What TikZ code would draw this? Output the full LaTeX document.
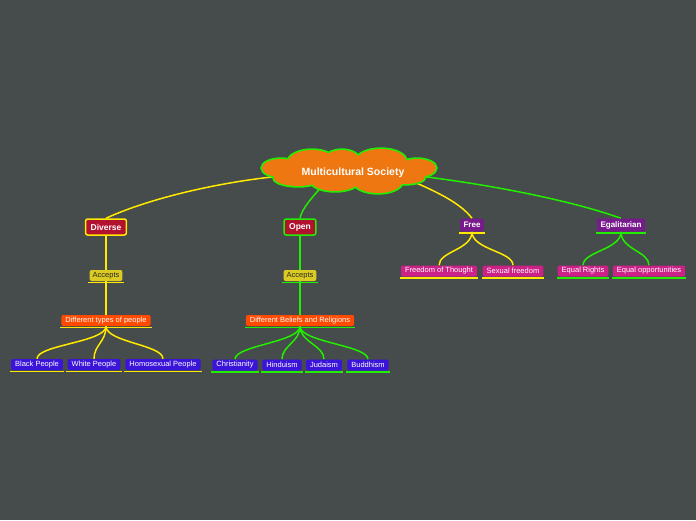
\documentclass[tikz,border=0pt]{standalone}
\usepackage{fontspec}
\setmainfont{Liberation Sans}
\usetikzlibrary{backgrounds}
\definecolor{SlateBG}    {HTML}{464B4B}
\definecolor{CloudOrange}{HTML}{EE7711}
\definecolor{LimeLine}   {HTML}{22EE00}
\definecolor{SunLine}    {HTML}{FFEA00}
\definecolor{WineRed}    {HTML}{B3122E}
\definecolor{AcceptGold} {HTML}{DCCB22}
\definecolor{FlameOrange}{HTML}{FF4A00}
\definecolor{IndigoLeaf} {HTML}{3A14D8}
\definecolor{PlumTop}    {HTML}{771A8C}
\definecolor{BerryLeaf}  {HTML}{CC2288}

\begin{document}
\begin{tikzpicture}[x=1pt,y=-1pt,
    plate/.style={rounded corners=2pt,inner xsep=4pt,inner ysep=0pt,
      minimum height=11pt,text=white,font=\fontsize{7.5}{8}\selectfont},
    headbox/.style={plate,line width=1.5pt,fill=WineRed,minimum height=16pt,
      inner xsep=5pt,font=\fontsize{8.5}{9}\selectfont\bfseries},
    plumbox/.style={plate,fill=PlumTop,minimum height=13pt,inner xsep=3.5pt,
      font=\fontsize{8}{9}\selectfont\bfseries},
    acceptbox/.style={plate,fill=AcceptGold,text=black!85,inner xsep=3pt},
    groupbox/.style={plate,fill=FlameOrange},
    leafbox/.style={plate,fill=IndigoLeaf},
    berrybox/.style={plate,fill=BerryLeaf},
    cloudrim/.style={draw=LimeLine,line width=3.4pt},
    cloudbody/.style={fill=CloudOrange},
    sunlink/.style={draw=SunLine,line width=1.5pt},
    limelink/.style={draw=LimeLine,line width=1.5pt}]

    \useasboundingbox (0,0) rectangle (696,520);

    % cloud: green rim first, orange body on top
    \foreach \coat in {cloudrim,cloudbody}
      \path[\coat]
        (281,168) ellipse [x radius=19,y radius=9]
        (312,162) ellipse [x radius=24,y radius=12]
        (342,161) ellipse [x radius=18,y radius=11]
        (381,161) ellipse [x radius=25,y radius=12]
        (417,168) ellipse [x radius=19,y radius=9]
        (405,177) ellipse [x radius=20,y radius=7]
        (378,182) ellipse [x radius=24,y radius=11]
        (335,181) ellipse [x radius=24,y radius=10]
        (298,178) ellipse [x radius=24,y radius=8]
        (350,171) ellipse [x radius=75,y radius=15];
    \node[text=white,font=\fontsize{10.5}{12}\selectfont\bfseries] (msoc) at (353,173)
      {Multicultural Society};
    \coordinate (cwest) at (281,176);
    \coordinate (csouth) at (322,186);
    \coordinate (cseast) at (414,182);
    \coordinate (ceast) at (427,177);

    \node[headbox,draw=SunLine] (div) at (106,227) {Diverse};
    \node[headbox,draw=LimeLine] (opn) at (300,227) {Open};
    \node[plumbox] (free) at (472,225) {Free};
    \node[plumbox] (egal) at (621,225) {Egalitarian};

    \node[acceptbox] (accd) at (106,275.5) {Accepts};
    \node[acceptbox] (acco) at (300,275.5) {Accepts};
    \node[groupbox] (types) at (106,320.5) {Different types of people};
    \node[groupbox] (belief) at (300,320.5) {Different Beliefs and Religions};

    \node[leafbox] (black) at (37,364.5) {Black People};
    \node[leafbox] (white) at (94,364.5) {White People};
    \node[leafbox] (homo) at (163,364.5) {Homosexual People};
    \node[leafbox] (chris) at (235,365) {Christianity};
    \node[leafbox] (hindu) at (282,365) {Hinduism};
    \node[leafbox] (juda) at (324,365) {Judaism};
    \node[leafbox] (budd) at (368,365) {Buddhism};

    \node[berrybox] (thought) at (439,271) {Freedom of Thought};
    \node[berrybox] (sexual) at (513,271) {Sexual freedom};
    \node[berrybox] (rights) at (583,271) {Equal Rights};
    \node[berrybox] (chances) at (649,271) {Equal opportunities};

    \foreach \n in {accd,types,black,white,homo,free,thought,sexual}
      \draw[sunlink] ([xshift=-1pt,yshift=-1.5pt]\n.south west)
        -- ([xshift=1pt,yshift=-1.5pt]\n.south east);
    \foreach \n in {acco,belief,chris,hindu,juda,budd,egal,rights,chances}
      \draw[limelink] ([xshift=-1pt,yshift=-1.5pt]\n.south west)
        -- ([xshift=1pt,yshift=-1.5pt]\n.south east);

    \begin{scope}[on background layer]
      \fill[SlateBG] (0,0) rectangle (696,520);
      \draw[sunlink] (cwest) .. controls (220,182) and (150,198) .. (div.north);
      \draw[limelink] (csouth) .. controls (312,198) and (302,208) .. (opn.north);
      \draw[sunlink] (cseast) .. controls (442,194) and (462,205) .. (free.north);
      \draw[limelink] (ceast) .. controls (490,185) and (570,200) .. (egal.north);

      \draw[sunlink] (div.south) -- (accd.north);
      \draw[sunlink] (accd.south) -- (types.north);
      \draw[limelink] (opn.south) -- (acco.north);
      \draw[limelink] (acco.south) -- (belief.north);

      \foreach \k in {black,white,homo}
        \draw[sunlink] (types.south) .. controls +(0,16) and +(0,-14) .. (\k.north);
      \foreach \k in {chris,hindu,juda,budd}
        \draw[limelink] (belief.south) .. controls +(0,16) and +(0,-14) .. (\k.north);
      \foreach \k in {thought,sexual}
        \draw[sunlink] (free.south) .. controls +(0,18) and +(0,-14) .. (\k.north);
      \foreach \k in {rights,chances}
        \draw[limelink] (egal.south) .. controls +(0,18) and +(0,-14) .. (\k.north);
    \end{scope}
\end{tikzpicture}
\end{document}
